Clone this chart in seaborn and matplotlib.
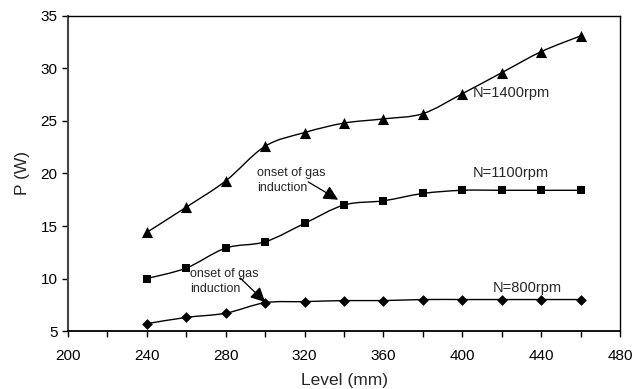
import numpy as np
import pandas as pd
import matplotlib
matplotlib.use("Agg")
import matplotlib.pyplot as plt
from matplotlib.path import Path
from matplotlib.patches import PathPatch
from matplotlib.ticker import MultipleLocator
import seaborn as sns

# ---- data ----
level = [240, 260, 280, 300, 320, 340, 360, 380, 400, 420, 440, 460]
p_1400 = [14.4, 16.8, 19.3, 22.6, 23.9, 24.8, 25.2, 25.7, 27.6, 29.6, 31.6, 33.1]
p_1100 = [10.0, 11.0, 12.9, 13.5, 15.25, 17.0, 17.4, 18.1, 18.4, 18.4, 18.4, 18.4]
p_800 = [5.7, 6.3, 6.7, 7.7, 7.8, 7.9, 7.9, 8.0, 8.0, 8.0, 8.0, 8.0]
series_labels = ["N=1400rpm", "N=1100rpm", "N=800rpm"]

sns.set_theme(style="white")
plt.rcParams['font.family'] = ['Liberation Sans', 'DejaVu Sans']

fig = plt.figure(figsize=(6.34, 3.89), dpi=100)
ax = fig.add_axes([0.1073, 0.149, 0.8707, 0.810])

df = pd.DataFrame({
    "Level": level * 3,
    "P": p_1400 + p_1100 + p_800,
    "Series": [series_labels[0]] * len(level) + [series_labels[1]] * len(level) + [series_labels[2]] * len(level),
})


def smooth_path(xs, ys):
    pts = np.column_stack([xs, ys]).astype(float)
    n = len(pts)
    verts = [pts[0]]
    codes = [Path.MOVETO]
    for i in range(n - 1):
        p0 = pts[i - 1] if i > 0 else pts[i]
        p1 = pts[i]
        p2 = pts[i + 1]
        p3 = pts[i + 2] if i + 2 < n else pts[i + 1]
        c1 = p1 + (p2 - p0) / 6.0
        c2 = p2 - (p3 - p1) / 6.0
        verts += [c1, c2, p2]
        codes += [Path.CURVE4] * 3
    return Path(verts, codes)


markers = {series_labels[0]: "^", series_labels[1]: "s", series_labels[2]: "D"}
sizes = {series_labels[0]: 64, series_labels[1]: 38, series_labels[2]: 30}
for name, grp in df.groupby("Series", sort=False):
    ax.add_patch(PathPatch(smooth_path(grp["Level"].values, grp["P"].values),
                           facecolor="none", edgecolor="black", lw=1.0, zorder=2))
    sns.scatterplot(data=grp, x="Level", y="P", marker=markers[name], s=sizes[name],
                    color="black", edgecolor="black", linewidth=0, ax=ax, zorder=3, legend=False)

ax.set_xlim(200, 480)
ax.set_ylim(5, 35)
ax.xaxis.set_major_locator(MultipleLocator(40))
ax.xaxis.set_minor_locator(MultipleLocator(20))
ax.yaxis.set_major_locator(MultipleLocator(5))
ax.tick_params(axis="both", which="both", direction="out", colors="black",
               labelsize=11, length=4, width=1, bottom=True, left=True)
ax.tick_params(axis="x", pad=9)
for s in ax.spines.values():
    s.set_color("black")
    s.set_linewidth(1.0)
ax.spines["left"].set_color("#444444")
ax.spines["left"].set_linewidth(1.5)
ax.spines["bottom"].set_linewidth(1.3)

ax.set_xlabel("Level (mm)", fontsize=12.5, labelpad=7)
ax.set_ylabel("P (W)", fontsize=12.5, labelpad=8)

ax.text(405.5, 27.7, series_labels[0], fontsize=10.5, va="center", ha="left")
ax.text(405.5, 20.0, series_labels[1], fontsize=10.5, va="center", ha="left")
ax.text(415.5, 9.1, series_labels[2], fontsize=10.5, va="center", ha="left")

arrow = dict(arrowstyle="-|>", color="black", lw=0.9, mutation_scale=22, shrinkA=0, shrinkB=0)
ax.text(295.7, 19.3, "onset of gas\ninduction", fontsize=9, ha="left", va="center", linespacing=1.3)
ax.annotate("", xy=(337, 17.5), xytext=(321.8, 19.2), arrowprops=arrow)
ax.text(261.9, 9.7, "onset of gas\ninduction", fontsize=9, ha="left", va="center", linespacing=1.3)
ax.annotate("", xy=(300, 7.76), xytext=(287.3, 10.05), arrowprops=arrow)

fig.savefig("out.png", dpi=100)
